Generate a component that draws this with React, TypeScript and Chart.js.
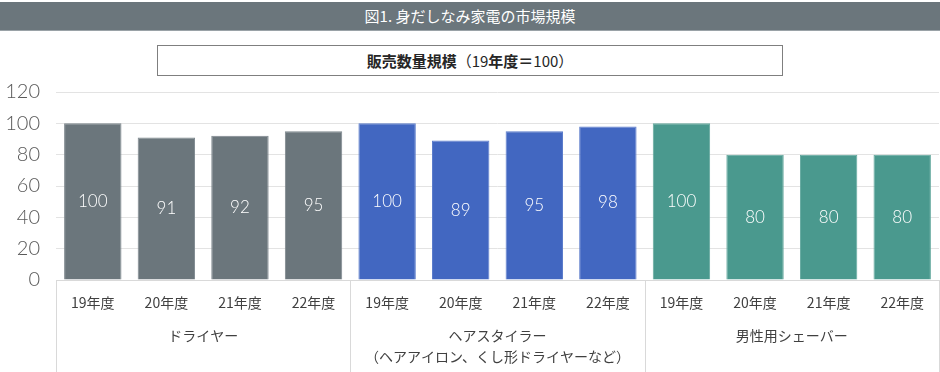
import React, { useEffect, useRef } from "react";
import { Chart, registerables } from "chart.js";

Chart.register(...registerables);

const years = ["19年度", "20年度", "21年度", "22年度", "19年度", "20年度", "21年度", "22年度", "19年度", "20年度", "21年度", "22年度"];
const values = [100, 91, 92, 95, 100, 89, 95, 98, 100, 80, 80, 80];
const groupNames = [["ドライヤー"], ["ヘアスタイラー", "（ヘアアイロン、くし形ドライヤーなど）"], ["男性用シェーバー"]];
const groupColors = ["#6b767c", "#4267c1", "#4a998e"];
const groupBorders = ["#7d878d", "#5a7bcb", "#62a89d"];
const yTicks = [0, 20, 40, 60, 80, 100, 120];
const GROUP_SIZE = 4;

const jpFont = '"Noto Sans CJK JP", "Noto Sans", sans-serif';

export default function App() {
  const ref = useRef<HTMLCanvasElement | null>(null);

  useEffect(() => {
    if (!ref.current) return;
    const colors = values.map((_, i) => groupColors[Math.floor(i / GROUP_SIZE)]);
    const borders = values.map((_, i) => groupBorders[Math.floor(i / GROUP_SIZE)]);

    const labelPlugin = {
      id: "custom",
      afterDatasetsDraw(chart: any) {
        const ctx = chart.ctx;
        const meta = chart.getDatasetMeta(0);
        ctx.save();
        ctx.fillStyle = "#ffffff";
        ctx.font = '300 17px Lato, "Noto Sans", sans-serif';
        ctx.textAlign = "center";
        ctx.textBaseline = "middle";
        meta.data.forEach((el: any, i: number) => {
          ctx.fillText(String(values[i]), el.x, (el.y + el.base) / 2);
        });
        ctx.restore();
      },
      afterDraw(chart: any) {
        const ctx = chart.ctx;
        const xs = chart.scales.x;
        const area = chart.chartArea;
        const bottom = chart.height;
        ctx.save();
        ctx.strokeStyle = "#d9d9d9";
        ctx.lineWidth = 1;
        const bounds: number[] = [area.left];
        for (let g = 1; g < groupNames.length; g++) {
          const i = g * GROUP_SIZE;
          bounds.push((xs.getPixelForTick(i - 1) + xs.getPixelForTick(i)) / 2);
        }
        bounds.push(area.right);
        bounds.forEach((bx) => {
          const px = Math.round(bx) + 0.5;
          ctx.beginPath();
          ctx.moveTo(px, area.bottom);
          ctx.lineTo(px, bottom);
          ctx.stroke();
        });
        ctx.fillStyle = "#404040";
        ctx.font = `14px ${jpFont}`;
        ctx.textAlign = "center";
        ctx.textBaseline = "middle";
        groupNames.forEach((lines, g) => {
          const cx = (bounds[g] + bounds[g + 1]) / 2;
          lines.forEach((t, li) => {
            ctx.fillText(t, cx, area.bottom + 56 + li * 21);
          });
        });
        ctx.restore();
      },
    };

    const chart = new Chart(ref.current, {
      type: "bar",
      data: {
        labels: years,
        datasets: [
          {
            data: values,
            backgroundColor: colors,
            borderColor: borders,
            borderWidth: 1,
            barPercentage: 0.78,
            categoryPercentage: 1,
          },
        ],
      },
      options: {
        animation: false,
        responsive: false,
        maintainAspectRatio: false,
        layout: { padding: { top: 12, right: 1, left: 0, bottom: 0 } },
        plugins: { legend: { display: false }, tooltip: { enabled: false }, title: { display: false } },
        scales: {
          x: {
            grid: { display: false, drawTicks: false },
            border: { display: true, color: "#d9d9d9" },
            ticks: {
              color: "#404040",
              font: { family: jpFont, size: 14 },
              padding: 14,
              maxRotation: 0,
              autoSkip: false,
            },
            afterFit(scale: any) {
              scale.height = 92;
            },
          },
          y: {
            min: 0,
            max: 120,
            grid: { color: "#e3e3e3", drawTicks: true, tickLength: 16, tickColor: "rgba(0,0,0,0)" },
            border: { display: false },
            afterBuildTicks(scale: any) {
              scale.ticks = yTicks.map((v) => ({ value: v }));
            },
            ticks: {
              color: "#595959",
              font: { family: "Lato, 'Noto Sans', sans-serif", size: 20, weight: "300" as any },
              padding: 0,
            },
            afterFit(scale: any) {
              scale.width = 56;
            },
          },
        },
      },
      plugins: [labelPlugin],
    });
    return () => chart.destroy();
  }, []);

  return (
    <div style={{ position: "absolute", left: 0, top: 0, width: 940, height: 372, background: "#fff", overflow: "hidden" }}>
      <div
        style={{
          position: "absolute",
          left: 0,
          top: 2,
          width: 940,
          height: 28,
          background: "#6b767c",
          borderBottom: "1px solid #9aa2a7",
          color: "#fff",
          fontFamily: jpFont,
          fontSize: 15,
          lineHeight: "28px",
          textAlign: "center",
        }}
      >
        図1. 身だしなみ家電の市場規模
      </div>
      <div
        style={{
          position: "absolute",
          left: 157,
          top: 45,
          width: 624,
          height: 29,
          border: "1px solid #7f7f7f",
          color: "#262626",
          fontFamily: jpFont,
          fontSize: 15,
          lineHeight: "29px",
          textAlign: "center",
        }}
      >
        <span style={{ fontWeight: 700 }}>販売数量規模</span>
        <span>（19</span>
        <span style={{ fontWeight: 700 }}>年度＝</span>
        <span>100）</span>
      </div>
      <canvas ref={ref} width={940} height={292} style={{ position: "absolute", left: 0, top: 80, width: 940, height: 292 }} />
    </div>
  );
}
